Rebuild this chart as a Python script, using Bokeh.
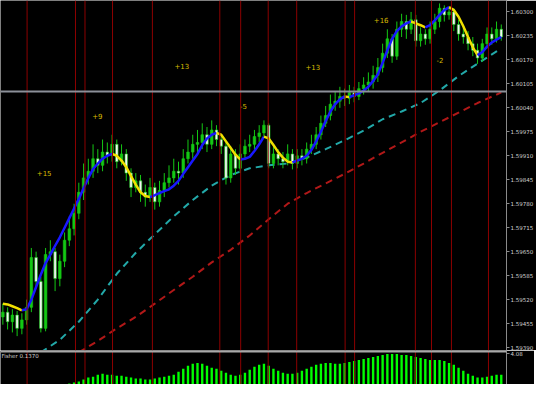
from bokeh.plotting import figure
from bokeh.models import Span, Label, FixedTicker, Range1d, PrintfTickFormatter, BoxAnnotation
from bokeh.layouts import column
from bokeh.embed import file_html
from bokeh.resources import INLINE
from bokeh.core.properties import value

# ---------------- data ----------------
bar_open = [1.59473, 1.59486, 1.59460, 1.59478, 1.59442, 1.59465, 1.59499, 1.59634, 1.59569, 1.59442,
            1.59642, 1.59650, 1.59577, 1.59624, 1.59681, 1.59712, 1.59754, 1.59811, 1.59850, 1.59868,
            1.59902, 1.59884, 1.59920, 1.59910, 1.59941, 1.59894, 1.59915, 1.59863, 1.59824, 1.59842,
            1.59811, 1.59798, 1.59824, 1.59785, 1.59816, 1.59837, 1.59850, 1.59868, 1.59863, 1.59902,
            1.59920, 1.59941, 1.59946, 1.59967, 1.59941, 1.59980, 1.59954, 1.59936, 1.59850, 1.59915,
            1.59876, 1.59915, 1.59936, 1.59941, 1.59962, 1.59972, 1.59993, 1.59889, 1.59915, 1.59902,
            1.59894, 1.59915, 1.59889, 1.59910, 1.59902, 1.59928, 1.59941, 1.59967, 1.59998, 1.60019,
            1.60050, 1.60058, 1.60071, 1.60066, 1.60081, 1.60071, 1.60092, 1.60102, 1.60110, 1.60128,
            1.60149, 1.60188, 1.60227, 1.60180, 1.60253, 1.60274, 1.60253, 1.60279, 1.60222, 1.60240,
            1.60227, 1.60253, 1.60274, 1.60310, 1.60292, 1.60300, 1.60266, 1.60240, 1.60232, 1.60214,
            1.60196, 1.60175, 1.60214, 1.60240, 1.60227, 1.60253]
bar_close = [1.59486, 1.59460, 1.59478, 1.59442, 1.59465, 1.59499, 1.59634, 1.59569, 1.59442, 1.59642,
             1.59650, 1.59577, 1.59624, 1.59681, 1.59712, 1.59754, 1.59811, 1.59850, 1.59868, 1.59902,
             1.59884, 1.59920, 1.59910, 1.59941, 1.59894, 1.59915, 1.59863, 1.59824, 1.59842, 1.59811,
             1.59798, 1.59824, 1.59785, 1.59816, 1.59837, 1.59850, 1.59868, 1.59863, 1.59902, 1.59920,
             1.59941, 1.59946, 1.59967, 1.59941, 1.59980, 1.59954, 1.59936, 1.59850, 1.59915, 1.59876,
             1.59915, 1.59936, 1.59941, 1.59962, 1.59972, 1.59993, 1.59889, 1.59915, 1.59902, 1.59894,
             1.59915, 1.59889, 1.59910, 1.59902, 1.59928, 1.59941, 1.59967, 1.59998, 1.60019, 1.60050,
             1.60058, 1.60071, 1.60066, 1.60081, 1.60071, 1.60092, 1.60102, 1.60110, 1.60128, 1.60149,
             1.60188, 1.60227, 1.60180, 1.60253, 1.60274, 1.60253, 1.60279, 1.60222, 1.60240, 1.60227,
             1.60253, 1.60274, 1.60310, 1.60292, 1.60300, 1.60266, 1.60240, 1.60232, 1.60214, 1.60196,
             1.60175, 1.60214, 1.60240, 1.60227, 1.60253, 1.60232]
bar_high = [1.59509, 1.59499, 1.59494, 1.59489, 1.59483, 1.59520, 1.59660, 1.59650, 1.59582, 1.59660,
            1.59681, 1.59660, 1.59642, 1.59702, 1.59746, 1.59780, 1.59837, 1.59889, 1.59902, 1.59941,
            1.59928, 1.59954, 1.59946, 1.59967, 1.59954, 1.59941, 1.59928, 1.59876, 1.59863, 1.59858,
            1.59832, 1.59850, 1.59837, 1.59842, 1.59863, 1.59884, 1.59902, 1.59894, 1.59928, 1.59954,
            1.59967, 1.59980, 1.59998, 1.59988, 1.60006, 1.59993, 1.59967, 1.59946, 1.59936, 1.59928,
            1.59941, 1.59954, 1.59967, 1.59980, 1.59993, 1.60006, 1.59998, 1.59936, 1.59928, 1.59920,
            1.59941, 1.59928, 1.59928, 1.59928, 1.59946, 1.59967, 1.59988, 1.60019, 1.60045, 1.60076,
            1.60084, 1.60097, 1.60092, 1.60102, 1.60097, 1.60110, 1.60123, 1.60136, 1.60154, 1.60175,
            1.60214, 1.60253, 1.60240, 1.60274, 1.60295, 1.60292, 1.60300, 1.60292, 1.60258, 1.60253,
            1.60274, 1.60295, 1.60323, 1.60318, 1.60315, 1.60310, 1.60279, 1.60258, 1.60248, 1.60232,
            1.60214, 1.60227, 1.60258, 1.60258, 1.60274, 1.60266]
bar_low = [1.59452, 1.59439, 1.59431, 1.59421, 1.59426, 1.59452, 1.59486, 1.59551, 1.59431, 1.59434,
           1.59624, 1.59543, 1.59556, 1.59608, 1.59665, 1.59694, 1.59738, 1.59790, 1.59832, 1.59850,
           1.59863, 1.59868, 1.59889, 1.59894, 1.59876, 1.59884, 1.59842, 1.59798, 1.59811, 1.59785,
           1.59772, 1.59785, 1.59764, 1.59772, 1.59798, 1.59824, 1.59837, 1.59832, 1.59850, 1.59889,
           1.59902, 1.59920, 1.59928, 1.59920, 1.59928, 1.59936, 1.59915, 1.59832, 1.59837, 1.59858,
           1.59863, 1.59902, 1.59920, 1.59928, 1.59946, 1.59962, 1.59876, 1.59876, 1.59884, 1.59876,
           1.59884, 1.59873, 1.59876, 1.59884, 1.59889, 1.59915, 1.59928, 1.59954, 1.59988, 1.60006,
           1.60032, 1.60040, 1.60045, 1.60050, 1.60055, 1.60061, 1.60076, 1.60084, 1.60092, 1.60110,
           1.60136, 1.60175, 1.60162, 1.60170, 1.60232, 1.60227, 1.60240, 1.60206, 1.60206, 1.60211,
           1.60214, 1.60240, 1.60258, 1.60274, 1.60279, 1.60248, 1.60222, 1.60214, 1.60196, 1.60180,
           1.60159, 1.60165, 1.60201, 1.60211, 1.60217, 1.60222]

# fast (hull-type) moving average, one value per bar
hull = [1.59509, 1.59507, 1.59502, 1.59497, 1.59491, 1.59494, 1.59520, 1.59554, 1.59588, 1.59619,
        1.59642, 1.59666, 1.59689, 1.59715, 1.59741, 1.59767, 1.59793, 1.59822, 1.59850, 1.59874,
        1.59889, 1.59902, 1.59910, 1.59915, 1.59910, 1.59897, 1.59879, 1.59855, 1.59832, 1.59811,
        1.59801, 1.59798, 1.59803, 1.59809, 1.59814, 1.59819, 1.59829, 1.59842, 1.59861, 1.59879,
        1.59897, 1.59915, 1.59939, 1.59957, 1.59967, 1.59972, 1.59967, 1.59949, 1.59931, 1.59913,
        1.59900, 1.59902, 1.59907, 1.59923, 1.59941, 1.59962, 1.59957, 1.59939, 1.59920, 1.59905,
        1.59894, 1.59892, 1.59897, 1.59902, 1.59910, 1.59926, 1.59949, 1.59975, 1.60004, 1.60030,
        1.60050, 1.60063, 1.60071, 1.60069, 1.60074, 1.60079, 1.60087, 1.60097, 1.60113, 1.60131,
        1.60162, 1.60196, 1.60227, 1.60248, 1.60261, 1.60269, 1.60274, 1.60269, 1.60264, 1.60258,
        1.60264, 1.60277, 1.60292, 1.60305, 1.60313, 1.60305, 1.60287, 1.60261, 1.60232, 1.60204,
        1.60183, 1.60191, 1.60206, 1.60217, 1.60225, 1.60232]

# slower moving averages (read every 4 bars)
ma_mid_idx = [8, 12, 16, 20, 24, 28, 32, 36, 40, 44, 48, 52, 56, 60, 64, 68, 72, 76, 80, 84, 88, 92, 96, 100, 104, 105]
ma_mid = [1.59377, 1.59411, 1.59460, 1.59520, 1.59590, 1.59647, 1.59697, 1.59746, 1.59790, 1.59829,
          1.59858, 1.59876, 1.59884, 1.59889, 1.59905, 1.59928, 1.59952, 1.59978, 1.60009, 1.60030,
          1.60053, 1.60087, 1.60126, 1.60160, 1.60193, 1.60201]
ma_slow_idx = [16, 20, 24, 28, 32, 36, 40, 44, 48, 52, 56, 60, 64, 68, 72, 76, 80, 84, 88, 92, 96, 100, 104, 105]
ma_slow = [1.59377, 1.59408, 1.59442, 1.59473, 1.59509, 1.59546, 1.59582, 1.59621, 1.59655, 1.59694,
           1.59738, 1.59780, 1.59809, 1.59835, 1.59861, 1.59889, 1.59918, 1.59946, 1.59975, 1.60001,
           1.60027, 1.60053, 1.60076, 1.60082]

# Fisher histogram (sub window)
fisher = [0, 0, 0, 0, 0, 0, 0, 0, 0, 0, 0, 0, 0, 0,
          0.13, 0.26, 0.39, 0.65, 0.91, 1.04, 1.30, 1.43, 1.30, 1.30,
          1.17, 1.17, 1.04, 0.91, 0.78, 0.78, 0.65, 0.65, 0.78, 0.91,
          1.04, 1.17, 1.30, 1.69, 2.08, 2.47, 2.73, 2.86, 2.73, 2.47,
          2.21, 2.08, 1.82, 1.56, 1.30, 1.17, 1.30, 1.56, 1.95, 2.34,
          2.60, 2.73, 2.47, 2.08, 1.82, 1.56, 1.43, 1.43, 1.56, 1.82,
          2.08, 2.34, 2.60, 2.73, 2.86, 2.86, 2.73, 2.73, 2.86, 2.99,
          3.12, 3.25, 3.38, 3.51, 3.64, 3.77, 3.90, 4.03, 4.03, 4.03,
          3.90, 3.90, 3.77, 3.64, 3.51, 3.38, 3.25, 3.25, 3.25, 3.12,
          2.86, 2.60, 2.21, 1.82, 1.43, 1.17, 0.91, 0.91, 1.04, 1.17,
          1.30, 1.30]

# period separators (bar positions)
sep_x = [5.1, 15.3, 17.3, 23.1, 31.5, 45.7, 50.1, 55.9, 61.9, 72.1, 74.1, 86.9, 90.3, 94.5, 102.3]

# swing annotations
lbl_x = [8.7, 19.9, 37.7, 50.7, 65.3, 79.7, 92.1]
lbl_y = [1.59863, 1.60019, 1.60154, 1.60045, 1.60152, 1.60279, 1.60170]
lbl_text = ["+15", "+9", "+13", "-5", "+13", "+16", "-2"]

hline_price = 1.60084
price_ticks = [1.60300, 1.60235, 1.60170, 1.60105, 1.60040, 1.59975, 1.59910, 1.59845,
               1.59780, 1.59715, 1.59650, 1.59585, 1.59520, 1.59455, 1.59390]
fisher_label = "Fisher 0.1370"
fisher_tick = 4.08

# ---------------- styles ----------------
BG = "#000000"
WICK = "#14c814"
BLUE = "#1818ff"
YEL = "#f0e000"
CYAN = "#22a8a8"
DRED = "#b01818"
SEP = "#8c0000"
AXIS = "#8a8a8a"
LBL = "#d0d0d0"
FRAME_W = 506
RB = 28

N = len(bar_close)
idx = list(range(N))
xr = Range1d(-0.5, 106.1)


def style_axis(ax):
    ax.axis_line_color = AXIS
    ax.axis_line_width = 1
    ax.major_tick_line_color = AXIS
    ax.major_tick_out = 3
    ax.major_tick_in = 0
    ax.minor_tick_line_color = None
    ax.major_label_text_color = LBL
    ax.major_label_text_font_size = "5.5px"
    ax.major_label_text_font = "DejaVu Sans"
    ax.major_label_standoff = 1


p = figure(frame_width=FRAME_W, frame_height=350, x_range=xr, y_range=Range1d(1.59382, 1.60331),
           output_backend="svg", toolbar_location=None, x_axis_location=None,
           y_axis_location="right", min_border_left=0, min_border_top=0,
           min_border_bottom=0, min_border_right=RB)
p.background_fill_color = BG
p.border_fill_color = BG
p.outline_line_color = None
p.grid.visible = False
p.yaxis.ticker = FixedTicker(ticks=price_ticks)
p.yaxis.formatter = PrintfTickFormatter(format="%.5f")
style_axis(p.yaxis[0])

for sx in sep_x:
    p.add_layout(Span(location=sx, dimension="height", line_color=SEP, line_width=1))
p.add_layout(Span(location=hline_price, dimension="width", line_color="#8c9099", line_width=2))

# slow MAs
p.line(ma_slow_idx, ma_slow, line_color=DRED, line_width=2, line_dash="7 5")
p.line(ma_mid_idx, ma_mid, line_color=CYAN, line_width=2, line_dash="7 5")

# candles
body_top = [max(o, c) for o, c in zip(bar_open, bar_close)]
body_bot = [min(o, c) for o, c in zip(bar_open, bar_close)]
body_fill = [WICK if c >= o else "#f4f4f4" for o, c in zip(bar_open, bar_close)]
p.segment(idx, bar_high, idx, bar_low, line_color=WICK, line_width=1)
p.vbar(x=idx, width=0.55, top=body_top, bottom=body_bot, fill_color=body_fill,
       line_color=WICK, line_width=0.6)

# fast MA coloured by direction
hx, hy, hc = [], [], []
run_x, run_y, cur = [0], [hull[0]], None
for i in range(1, N):
    col = YEL if hull[i] < hull[i - 1] else BLUE
    if cur is None:
        cur = col
    if col != cur:
        hx.append(run_x); hy.append(run_y); hc.append(cur)
        run_x, run_y, cur = [i - 1], [hull[i - 1]], col
    run_x.append(i); run_y.append(hull[i])
hx.append(run_x); hy.append(run_y); hc.append(cur)
p.multi_line(hx, hy, line_color=hc, line_width=2.5)

p.text(x=lbl_x, y=lbl_y, text=lbl_text, text_color="#d8bc00", text_font_size="7px",
       text_font=value("DejaVu Sans"), text_align="center", text_baseline="middle")

# sub window
s = figure(frame_width=FRAME_W, frame_height=34, x_range=xr, y_range=Range1d(0, 4.5),
           output_backend="svg", toolbar_location=None, x_axis_location=None,
           y_axis_location="right", min_border_left=0, min_border_top=0,
           min_border_bottom=0, min_border_right=RB)
s.background_fill_color = BG
s.border_fill_color = BG
s.outline_line_color = None
s.grid.visible = False
s.yaxis.ticker = FixedTicker(ticks=[fisher_tick])
s.yaxis.formatter = PrintfTickFormatter(format="%.2f")
style_axis(s.yaxis[0])
for sx in sep_x:
    s.add_layout(Span(location=sx, dimension="height", line_color=SEP, line_width=1))
s.vbar(x=idx, width=0.5, top=fisher, bottom=0, fill_color="#00ff00", line_color=None)
s.add_layout(BoxAnnotation(bottom=4.22, top=4.5, fill_color="#a8a8a8", fill_alpha=1, line_color=None))
s.add_layout(Label(x=-0.3, y=4.15, text=fisher_label, text_font_size="5.5px", text_color=LBL,
                   text_baseline="top", text_font="DejaVu Sans"))

layout = column(p, s, spacing=0)
open("out.html", "w").write(file_html(layout, INLINE))
